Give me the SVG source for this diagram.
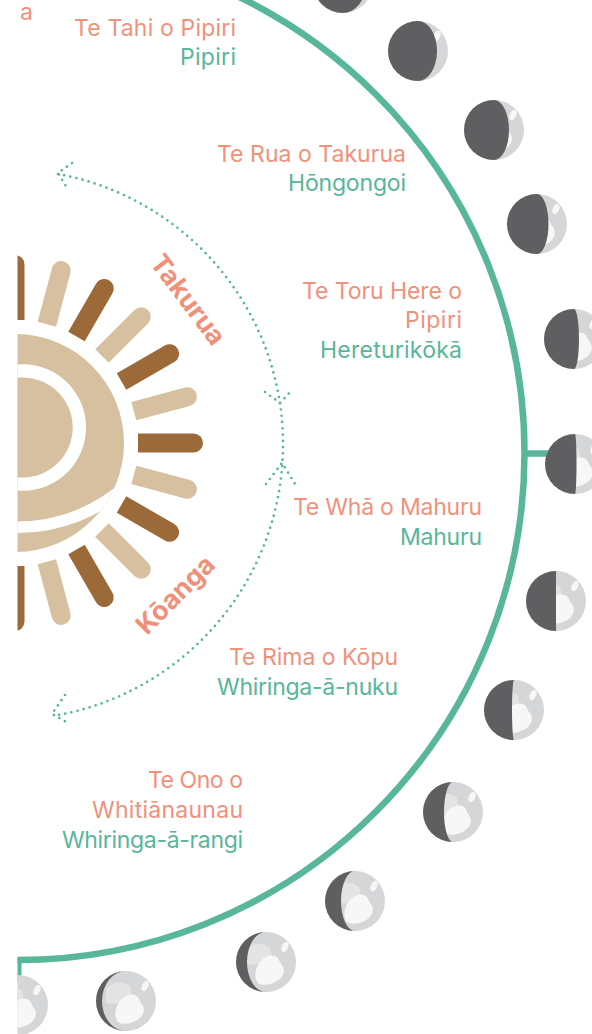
<svg xmlns="http://www.w3.org/2000/svg" xmlns:xlink="http://www.w3.org/1999/xlink" width="592" height="1034" viewBox="0 0 592 1034">
<style>
.lbl{font-family:Inter,"Liberation Sans",sans-serif;font-size:23px;text-anchor:end}
.sal{fill:#f0917c}
.grn{fill:#58b69a}
.season{font-family:Inter,"Liberation Sans",sans-serif;font-size:26.5px;font-weight:700;fill:#ef9179}
.dots{fill:none;stroke:#58b69a;stroke-width:2.7;stroke-linecap:round;stroke-dasharray:0 6.3}
.ring{fill:none;stroke:#58b69a;stroke-width:6.5}
.tan{fill:#d6c0a0}
.brn{fill:#9b6a38}
.dark{fill:#5f5f62}
</style>
<defs>
<clipPath id="cut"><rect x="17.5" y="0" width="580" height="1034"/></clipPath>
<clipPath id="outer"><circle cx="15" cy="443" r="109"/></clipPath>
<path id="ray" d="M123,-9.5 H178.5 A9.5,9.5 0 0 1 178.5,9.5 H123 Z"/>
<g id="ml">
<circle r="30" fill="#d5d6d8"/>
<path d="M-20,-12 C-14,-20 -2,-20 4,-14 L6,-4 C0,2 -10,4 -20,2 Z" fill="#e4e4e5"/>
<path d="M-6,0 C-1,-6 7,-9 12,-4 L15,2 C19,6 19,12 14,17 C8,22 0,24 -7,22 C-12,17 -12,8 -6,0 Z" fill="#f7f7f7"/>
<ellipse cx="19" cy="-15" rx="3.2" ry="5.5" transform="rotate(25 19 -15)" fill="#f7f7f7"/>
</g>
</defs>
<rect width="592" height="1034" fill="#ffffff"/>
<text class="lbl sal" x="20" y="20" style="text-anchor:start">a</text>
<g clip-path="url(#cut)">
<g id="connectors">
<circle class="ring" cx="17.5" cy="453" r="507"/>
<line x1="522" y1="453.5" x2="550" y2="453.5" stroke="#58b69a" stroke-width="6.5"/>
<line x1="18" y1="958" x2="18" y2="982" stroke="#58b69a" stroke-width="7"/>
<path class="dots" d="M58,174 A275,275 0 0 1 283,445 A275,275 0 0 1 53,716"/>
<path class="dots" d="M72,163 L58,173 L67,188"/>
<path class="dots" d="M265,392 L280,403 L292,390"/>
<path class="dots" d="M266,484 L282,463 L297,487"/>
<path class="dots" d="M65,695 L52,714 L70,724"/>
</g>
<g id="sun">
<g transform="translate(15,443)">
<use href="#ray" class="brn" transform="rotate(-90)"/>
<use href="#ray" class="tan" transform="rotate(-75)"/>
<use href="#ray" class="brn" transform="rotate(-60)"/>
<use href="#ray" class="tan" transform="rotate(-45)"/>
<use href="#ray" class="brn" transform="rotate(-30)"/>
<use href="#ray" class="tan" transform="rotate(-15)"/>
<use href="#ray" class="brn" transform="rotate(0)"/>
<use href="#ray" class="tan" transform="rotate(15)"/>
<use href="#ray" class="brn" transform="rotate(30)"/>
<use href="#ray" class="tan" transform="rotate(45)"/>
<use href="#ray" class="brn" transform="rotate(60)"/>
<use href="#ray" class="tan" transform="rotate(75)"/>
<use href="#ray" class="brn" transform="rotate(90)"/>
</g>
<circle class="tan" cx="15" cy="443" r="109"/>
<circle cx="22.7" cy="427.5" r="63.3" fill="#ffffff"/>
<circle class="tan" cx="22.7" cy="427.5" r="50"/>
<circle cx="17.3" cy="364" r="163.3" fill="none" stroke="#ffffff" stroke-width="11.6" clip-path="url(#outer)"/>
</g>
<g id="moons">
<g id="moon1" transform="translate(343,-17)"><use href="#ml"/><path class="dark" d="M0,-30 A30,30 0 0 0 0,30 A23,30 0 0 0 0,-30 Z"/></g>
<g id="moon2" transform="translate(418,51)"><use href="#ml"/><path class="dark" d="M0,-30 A30,30 0 0 0 0,30 A19,30 0 0 0 0,-30 Z"/></g>
<g id="moon3" transform="translate(494,130)"><use href="#ml"/><path class="dark" d="M0,-30 A30,30 0 0 0 0,30 A15,30 0 0 0 0,-30 Z"/></g>
<g id="moon4" transform="translate(537,224)"><use href="#ml"/><path class="dark" d="M0,-30 A30,30 0 0 0 0,30 A11.5,30 0 0 0 0,-30 Z"/></g>
<g id="moon5" transform="translate(574,339)"><use href="#ml"/><path class="dark" d="M0,-30 A30,30 0 0 0 0,30 A5,30 0 0 0 0,-30 Z"/></g>
<g id="moon6" transform="translate(575,464)"><use href="#ml"/><path class="dark" d="M0,-30 A30,30 0 0 0 0,30 A1.5,30 0 0 0 0,-30 Z"/></g>
<g id="moon7" transform="translate(556,601)"><use href="#ml"/><path class="dark" d="M0,-30 A30,30 0 0 0 0,30 Z"/></g>
<g id="moon8" transform="translate(514,710)"><use href="#ml"/><path class="dark" d="M0,-30 A30,30 0 0 0 0,30 A2,30 0 0 1 0,-30 Z"/></g>
<g id="moon9" transform="translate(453,812)"><use href="#ml"/><path class="dark" d="M0,-30 A30,30 0 0 0 0,30 A9,30 0 0 1 0,-30 Z"/></g>
<g id="moon10" transform="translate(355,901)"><use href="#ml"/><path class="dark" d="M0,-30 A30,30 0 0 0 0,30 A14,30 0 0 1 0,-30 Z"/></g>
<g id="moon11" transform="translate(266,962)"><use href="#ml"/><path class="dark" d="M0,-30 A30,30 0 0 0 0,30 A19,30 0 0 1 0,-30 Z"/></g>
<g id="moon12" transform="translate(126,1001)"><use href="#ml"/><path class="dark" d="M0,-30 A30,30 0 0 0 0,30 A24,30 0 0 1 0,-30 Z"/></g>
<g id="moon13" transform="translate(18,1005)"><use href="#ml"/></g>
</g>
</g>
<g id="seasons">
<text id="takurua" class="season" transform="translate(149,263) rotate(53)">Takurua</text>
<text id="koanga" class="season" transform="translate(147,636) rotate(-45)">Kōanga</text>
</g>
<g id="month1"><text class="lbl sal" x="236" y="36" textLength="162">Te Tahi o Pipiri</text><text class="lbl grn" x="236" y="65" textLength="56">Pipiri</text></g>
<g id="month2"><text class="lbl sal" x="406" y="162" textLength="189">Te Rua o Takurua</text><text class="lbl grn" x="406" y="191" textLength="118">Hōngongoi</text></g>
<g id="month3"><text class="lbl sal" x="462" y="299" textLength="160">Te Toru Here o</text><text class="lbl sal" x="462" y="328" textLength="57">Pipiri</text><text class="lbl grn" x="462" y="358" textLength="142">Hereturikōkā</text></g>
<g id="month4"><text class="lbl sal" x="482" y="515" textLength="189">Te Whā o Mahuru</text><text class="lbl grn" x="482" y="545" textLength="82">Mahuru</text></g>
<g id="month5"><text class="lbl sal" x="398" y="665" textLength="169">Te Rima o Kōpu</text><text class="lbl grn" x="398" y="695" textLength="181">Whiringa-ā-nuku</text></g>
<g id="month6"><text class="lbl sal" x="243" y="788" textLength="95">Te Ono o</text><text class="lbl sal" x="243" y="818" textLength="151">Whitiānaunau</text><text class="lbl grn" x="243" y="848" textLength="181">Whiringa-ā-rangi</text></g>
</svg>
